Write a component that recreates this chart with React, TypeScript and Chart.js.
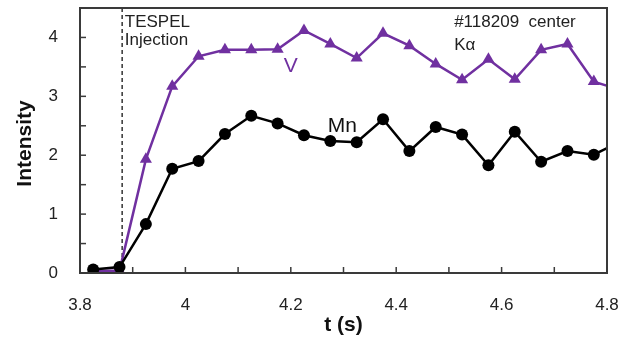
import React, { useEffect, useRef } from "react";
import { Chart, registerables } from "chart.js";

Chart.register(...registerables);

const times = [3.825, 3.875, 3.925, 3.975, 4.025, 4.075, 4.125, 4.175, 4.225, 4.275, 4.325, 4.375, 4.425, 4.475, 4.525, 4.575, 4.625, 4.675, 4.725, 4.775, 4.825];
const mnValues = [0.06, 0.1, 0.83, 1.77, 1.9, 2.36, 2.67, 2.54, 2.34, 2.24, 2.22, 2.61, 2.07, 2.48, 2.35, 1.83, 2.4, 1.89, 2.07, 2.01, 2.23];
const vValues = [0.04, 0.04, 1.93, 3.17, 3.68, 3.79, 3.79, 3.8, 4.12, 3.89, 3.65, 4.07, 3.86, 3.55, 3.28, 3.63, 3.29, 3.79, 3.89, 3.25, 3.11];
const injectionTime = 3.88;
const xRange = [3.8, 4.8];
const yRange = [0, 4.5];

const FONT = "'Liberation Sans', Arial, sans-serif";
const PURPLE = "#7030A0";

const decorPlugin = {
  id: "decor",
  beforeDatasetsDraw(chart: any) {
    const { ctx, chartArea, scales } = chart;
    const x = scales.x;
    ctx.save();
    const px = x.getPixelForValue(injectionTime);
    ctx.strokeStyle = "#333";
    ctx.lineWidth = 1.5;
    ctx.setLineDash([4, 3]);
    ctx.beginPath();
    ctx.moveTo(px, chartArea.top);
    ctx.lineTo(px, chartArea.bottom);
    ctx.stroke();
    ctx.restore();
  },
  afterDraw(chart: any) {
    const { ctx, chartArea, scales } = chart;
    const x = scales.x;
    const y = scales.y;
    ctx.save();
    ctx.strokeStyle = "#3a3a3a";
    ctx.lineWidth = 2;
    ctx.setLineDash([]);
    ctx.strokeRect(chartArea.left, chartArea.top, chartArea.right - chartArea.left, chartArea.bottom - chartArea.top);
    ctx.lineWidth = 1.5;
    x.ticks.forEach((t: any) => {
      const p = x.getPixelForValue(t.value);
      ctx.beginPath();
      ctx.moveTo(p, chartArea.bottom);
      ctx.lineTo(p, chartArea.bottom - 6);
      ctx.stroke();
    });
    y.ticks.forEach((t: any) => {
      const p = y.getPixelForValue(t.value);
      ctx.beginPath();
      ctx.moveTo(chartArea.left, p);
      ctx.lineTo(chartArea.left + 6, p);
      ctx.stroke();
    });
    ctx.fillStyle = "#222";
    ctx.textBaseline = "middle";
    ctx.textAlign = "left";
    ctx.font = `17px ${FONT}`;
    ctx.fillText("TESPEL", x.getPixelForValue(3.885), y.getPixelForValue(4.26));
    ctx.fillText("Injection", x.getPixelForValue(3.885), y.getPixelForValue(3.95));
    ctx.fillText("#118209  center", x.getPixelForValue(4.51), y.getPixelForValue(4.26));
    ctx.fillText("K\u03b1", x.getPixelForValue(4.51), y.getPixelForValue(3.87));
    ctx.textAlign = "center";
    ctx.font = `21px ${FONT}`;
    ctx.fillStyle = PURPLE;
    ctx.fillText("V", x.getPixelForValue(4.2), y.getPixelForValue(3.52));
    ctx.fillStyle = "#111";
    ctx.fillText("Mn", x.getPixelForValue(4.298), y.getPixelForValue(2.5));
    ctx.font = `bold 21px ${FONT}`;
    ctx.fillText("t (s)", (chartArea.left + chartArea.right) / 2, 325);
    ctx.translate(25, (chartArea.top + chartArea.bottom) / 2 + 3);
    ctx.rotate(-Math.PI / 2);
    ctx.fillText("Intensity", 0, 0);
    ctx.restore();
  },
};

export default function App() {
  const ref = useRef<HTMLCanvasElement | null>(null);
  useEffect(() => {
    if (!ref.current) return;
    const chart = new Chart(ref.current, {
      type: "line",
      data: {
        datasets: [
          {
            label: "Mn",
            data: times.map((t, i) => ({ x: t, y: mnValues[i] })),
            borderColor: "#000",
            backgroundColor: "#000",
            borderWidth: 2.5,
            pointStyle: "circle",
            pointRadius: 6,
            pointBorderWidth: 0,
            tension: 0,
          },
          {
            label: "V",
            data: times.map((t, i) => ({ x: t, y: vValues[i] })),
            borderColor: PURPLE,
            backgroundColor: PURPLE,
            borderWidth: 2.5,
            pointStyle: "triangle",
            pointRadius: 7,
            pointBorderWidth: 0,
            tension: 0,
          },
        ],
      },
      options: {
        animation: false,
        responsive: false,
        maintainAspectRatio: false,
        layout: { padding: { top: 8, right: 33, left: 0, bottom: 0 } },
        plugins: { legend: { display: false }, tooltip: { enabled: false } },
        scales: {
          x: {
            type: "linear",
            min: xRange[0],
            max: xRange[1],
            grid: { display: false, drawTicks: false },
            border: { display: false },
            afterFit: (s: any) => {
              s.height = 65;
              s.paddingLeft = 0;
              s.paddingRight = 0;
            },
            ticks: {
              stepSize: 0.1,
              padding: 22,
              color: "#222",
              font: { family: FONT, size: 17 },
              maxRotation: 0,
              autoSkip: false,
              callback: (v: any) => {
                const n = Number(v);
                return Math.abs(n * 5 - Math.round(n * 5)) < 1e-6 ? String(Number(n.toFixed(1))) : "";
              },
            },
          },
          y: {
            min: yRange[0],
            max: yRange[1],
            grid: { display: false, drawTicks: false },
            border: { display: false },
            afterFit: (s: any) => {
              s.width = 80;
              s.paddingTop = 0;
              s.paddingBottom = 0;
            },
            ticks: {
              stepSize: 0.5,
              padding: 22,
              color: "#222",
              font: { family: FONT, size: 17 },
              autoSkip: false,
              callback: (v: any) => {
                const n = Number(v);
                return Math.abs(n - Math.round(n)) < 1e-6 ? String(Math.round(n)) : "";
              },
            },
          },
        },
      },
      plugins: [decorPlugin],
    });
    return () => chart.destroy();
  }, []);
  return (
    <div style={{ position: "fixed", left: 0, top: 0, width: 640, height: 338, background: "#fff" }}>
      <canvas ref={ref} width={640} height={338} style={{ width: 640, height: 338 }} />
    </div>
  );
}
